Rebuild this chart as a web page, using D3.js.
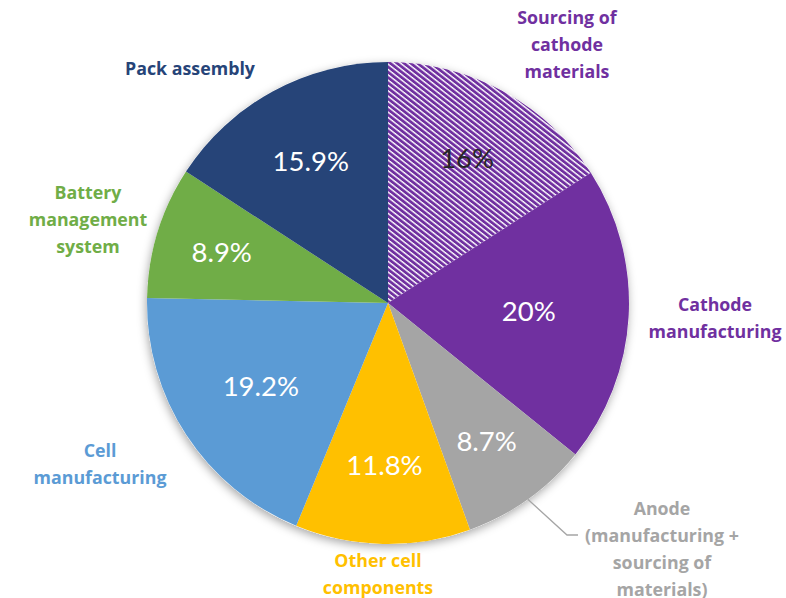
<!DOCTYPE html>
<html>
<head>
<meta charset="utf-8">
<script src="https://cdn.jsdelivr.net/npm/d3@7"></script>
<style>
  html, body { margin: 0; padding: 0; background: #ffffff; }
  svg { display: block; }
</style>
</head>
<body>
<svg id="chart" width="786" height="598"></svg>
<script>
// ---- data ----
const categories = [
  "Sourcing of cathode materials",
  "Cathode manufacturing",
  "Anode (manufacturing + sourcing of materials)",
  "Other cell components",
  "Cell manufacturing",
  "Battery management system",
  "Pack assembly"
];
const values = [16, 20, 8.7, 11.8, 19.2, 8.9, 15.9];
const valueLabels = ["16%", "20%", "8.7%", "11.8%", "19.2%", "8.9%", "15.9%"];
const categoryLines = [
  ["Sourcing of", "cathode", "materials"],
  ["Cathode", "manufacturing"],
  ["Anode", "(manufacturing +", "sourcing of", "materials)"],
  ["Other cell", "components"],
  ["Cell", "manufacturing"],
  ["Battery", "management", "system"],
  ["Pack assembly"]
];

// ---- style / layout ----
const colors = ["#7030A0", "#7030A0", "#A5A5A5", "#FFC000", "#5B9BD5", "#70AD47", "#264478"];
const pctColors = ["#262626", "#ffffff", "#ffffff", "#ffffff", "#ffffff", "#ffffff", "#ffffff"];
const pctRadius = [165, 141, 170, 162, 152, 174, 162];
const catPos = [[567, 18], [715, 305], [662, 509], [378, 561], [100, 451], [88, 193], [190, 69]];

const cx = 388, cy = 303, R = 241;
const svg = d3.select("#chart");
const defs = svg.append("defs");

const pat = defs.append("pattern")
  .attr("id", "hatch")
  .attr("patternUnits", "userSpaceOnUse")
  .attr("width", 4.2).attr("height", 4.2)
  .attr("patternTransform", "rotate(-52)");
pat.append("rect").attr("width", 4.2).attr("height", 4.2).attr("fill", "#ffffff");
pat.append("rect").attr("width", 2.8).attr("height", 4.2).attr("fill", "#7030A0");

const filt = defs.append("filter").attr("id", "shadow")
  .attr("x", "-20%").attr("y", "-20%").attr("width", "140%").attr("height", "140%");
filt.append("feDropShadow").attr("dx", -1).attr("dy", 3).attr("stdDeviation", 5)
  .attr("flood-color", "#000").attr("flood-opacity", 0.35);

const pie = d3.pie().sort(null).value(d => d)(values);
const arc = d3.arc().innerRadius(0).outerRadius(R);

const g = svg.append("g").attr("transform", `translate(${cx},${cy})`);

g.append("circle").attr("r", R).attr("fill", "#ffffff").attr("filter", "url(#shadow)");

g.selectAll("path.slice").data(pie).enter().append("path")
  .attr("class", "slice")
  .attr("d", arc)
  .attr("fill", (d, i) => i === 0 ? "url(#hatch)" : colors[i]);

// percentage labels
g.selectAll("text.pct").data(pie).enter().append("text")
  .attr("class", "pct")
  .attr("transform", (d, i) => {
    const c = d3.arc().innerRadius(pctRadius[i]).outerRadius(pctRadius[i]).centroid(d);
    return `translate(${c[0]},${c[1]})`;
  })
  .attr("text-anchor", "middle")
  .attr("dy", "0.36em")
  .attr("font-family", "Lato, 'Open Sans', sans-serif")
  .attr("font-size", 27.5)
  .attr("fill", (d, i) => pctColors[i])
  .text((d, i) => valueLabels[i]);

// leader line for anode
const anode = pie[2];
const mid = (anode.startAngle + anode.endAngle) / 2;
const p0 = [cx + R * Math.sin(mid), cy - R * Math.cos(mid)];
svg.append("polyline")
  .attr("points", `${p0[0]},${p0[1]} 567,535 578,535`)
  .attr("fill", "none").attr("stroke", "#A5A5A5").attr("stroke-width", 1.3);

// category labels
categoryLines.forEach((lines, i) => {
  const t = svg.append("text")
    .attr("x", catPos[i][0]).attr("y", catPos[i][1])
    .attr("text-anchor", "middle")
    .attr("font-family", "'Open Sans', Lato, sans-serif")
    .attr("font-weight", "bold")
    .attr("font-size", 17.8)
    .attr("fill", colors[i]);
  lines.forEach((ln, j) => {
    t.append("tspan").attr("x", catPos[i][0]).attr("dy", j === 0 ? "0.36em" : 26.7).text(ln);
  });
});
</script>
</body>
</html>
